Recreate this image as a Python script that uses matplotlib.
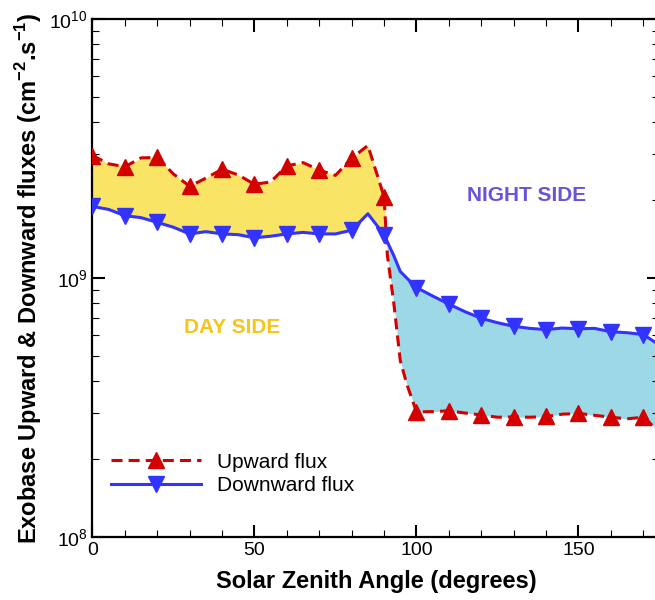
import numpy as np
import matplotlib
matplotlib.use('Agg')
import matplotlib.pyplot as plt
from matplotlib.ticker import LogLocator, MultipleLocator

plt.rcParams['font.family'] = ['Liberation Sans', 'DejaVu Sans']
plt.rcParams['mathtext.fontset'] = 'custom'
plt.rcParams['mathtext.rm'] = 'Liberation Sans'
plt.rcParams['mathtext.bf'] = 'Liberation Sans:bold'

# solar zenith angle grid (degrees)
sza = np.array([0, 5, 10, 15, 20, 25, 30, 35, 40, 45, 50, 55, 60, 65, 70, 75, 80, 85, 90,
                91, 93, 95, 97, 100, 105, 110, 115, 120, 125, 130, 135, 140, 145, 150,
                155, 160, 165, 170, 175])

upward = np.array([2.97e9, 2.76e9, 2.69e9, 2.91e9, 2.92e9, 2.52e9, 2.26e9, 2.43e9, 2.63e9,
                   2.50e9, 2.30e9, 2.35e9, 2.71e9, 2.79e9, 2.61e9, 2.49e9, 2.90e9, 3.25e9,
                   2.06e9, 1.23e9, 8.0e8, 4.8e8, 3.9e8, 3.04e8, 3.05e8, 3.07e8, 3.01e8,
                   2.96e8, 2.90e8, 2.91e8, 2.90e8, 2.92e8, 2.98e8, 3.00e8, 2.95e8, 2.90e8,
                   2.86e8, 2.90e8, 2.55e8])

downward = np.array([1.89e9, 1.84e9, 1.74e9, 1.71e9, 1.64e9, 1.57e9, 1.48e9, 1.51e9, 1.48e9,
                     1.47e9, 1.43e9, 1.45e9, 1.48e9, 1.50e9, 1.48e9, 1.48e9, 1.53e9, 1.77e9,
                     1.47e9, 1.38e9, 1.22e9, 1.06e9, 1.0e9, 9.19e8, 8.52e8, 7.93e8, 7.41e8,
                     6.99e8, 6.72e8, 6.51e8, 6.39e8, 6.32e8, 6.41e8, 6.37e8, 6.39e8, 6.20e8,
                     6.15e8, 6.05e8, 5.51e8])

# markers only every 10 degrees
marks = [i for i, a in enumerate(sza) if a % 10 == 0]

fig = plt.figure(figsize=(6.55, 6.0), dpi=100)
ax = fig.add_axes([0.1412, 0.105, 0.8656, 0.8633])

ax.fill_between(sza, upward, downward, where=upward >= downward, interpolate=True,
                color='#f9e466', linewidth=0, zorder=1)
ax.fill_between(sza, upward, downward, where=upward <= downward, interpolate=True,
                color='#9dd8e6', linewidth=0, zorder=1)

ax.plot(sza, upward, color='#d40000', lw=2.2, dashes=(3.6, 2.0), marker='^', markersize=11,
        markevery=marks, label='Upward flux', zorder=3)
ax.plot(sza, downward, color='#3333ff', lw=2.2, marker='v', markersize=11,
        markevery=marks, label='Downward flux', zorder=3)

ax.set_yscale('log')
ax.set_xlim(0, 175)
ax.set_ylim(1e8, 1e10)
ax.xaxis.set_major_locator(MultipleLocator(50))
ax.xaxis.set_minor_locator(MultipleLocator(10))
ax.yaxis.set_major_locator(LogLocator(base=10))
ax.yaxis.set_minor_locator(LogLocator(base=10, subs=np.arange(2, 10)))

ax.tick_params(which='both', direction='in', top=True, right=True, labelsize=14)
ax.tick_params(which='major', length=9, width=1.5)
ax.tick_params(which='minor', length=5, width=0.8)
for s in ax.spines.values():
    s.set_linewidth(1.6)

ax.set_xlabel('Solar Zenith Angle (degrees)', fontsize=17, fontweight='bold', labelpad=8)
ax.set_ylabel(r'Exobase Upward & Downward fluxes (cm$^{\mathbf{-2}}$.s$^{\mathbf{-1}}$)',
              fontsize=17, fontweight='bold', labelpad=4)

ax.text(134, 2.08e9, 'NIGHT SIDE', color='#6655d8', fontsize=15, fontweight='bold',
        ha='center', va='center')
ax.text(43, 6.45e8, 'DAY SIDE', color='#f5c518', fontsize=15, fontweight='bold',
        ha='center', va='center')

ax.legend(loc='lower left', bbox_to_anchor=(0.0, 0.045), frameon=False, fontsize=15,
          handlelength=4.3, handletextpad=0.8, labelspacing=0.2)

fig.savefig('out.png', dpi=100)
